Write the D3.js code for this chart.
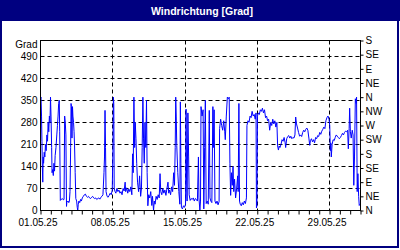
<!DOCTYPE html>
<html>
<head>
<meta charset="utf-8">
<script src="https://cdn.jsdelivr.net/npm/d3@7"></script>
<style>
  html, body { margin: 0; padding: 0; background: #fff; }
  svg text { font-family: "Liberation Sans", Arial, sans-serif; }
</style>
</head>
<body>
<div id="chart"></div>
<script>
var width = 400;
var height = 250;

// Achse / Beschriftungen
var yTicks = [0, 70, 140, 210, 280, 350, 420, 490];
var compassTicks = [0, 45, 90, 135, 180, 225, 270, 315, 360, 405, 450, 495, 540];
var compassLabels = ["N", "NE", "E", "SE", "S", "SW", "W", "NW", "N", "NE", "E", "SE", "S"];
var dateTicks = ["2025-05-01", "2025-05-08", "2025-05-15", "2025-05-22", "2025-05-29"];

// Messwerte: Tage seit 01.05.25 00:00 und Windrichtung in Grad
var dayOffset = [
  0.00, 0.05, 0.10, 0.14, 0.18, 0.22, 0.26, 0.30, 0.36, 0.42, 0.48, 0.55, 0.62, 0.68, 0.74, 0.80, 0.86, 0.92, 0.97,
  1.02, 1.08, 1.12, 1.18, 1.24, 1.30, 1.36, 1.42, 1.50, 1.58, 1.64, 1.70, 1.76, 1.82, 1.86, 1.92, 1.98,
  2.05, 2.12, 2.20, 2.28, 2.34, 2.40, 2.46, 2.52, 2.56, 2.62, 2.68, 2.74, 2.80, 2.86, 2.92, 2.96,
  3.00, 3.05, 3.10, 3.14, 3.20, 3.25, 3.30, 3.36, 3.42, 3.50, 3.56, 3.61, 3.66, 3.72, 3.80, 3.88, 3.96,
  4.05, 4.15, 4.25, 4.35, 4.45, 4.55, 4.65, 4.75, 4.85, 4.95, 5.05, 5.15, 5.25, 5.35, 5.45, 5.55, 5.65, 5.75, 5.85, 5.95,
  6.05, 6.15, 6.20, 6.25, 6.30, 6.35, 6.45, 6.55, 6.65, 6.75, 6.85, 6.95, 7.02, 7.06, 7.10, 7.14, 7.22, 7.30, 7.40, 7.50,
  7.60, 7.70, 7.80, 7.90, 8.00, 8.10, 8.20, 8.25, 8.35, 8.45, 8.55, 8.65, 8.75, 8.85, 8.92, 8.98,
  9.05, 9.12, 9.18, 9.25, 9.32, 9.40, 9.50, 9.60, 9.70, 9.78, 9.85, 9.92, 9.98,
  10.05, 10.12, 10.20, 10.27, 10.33, 10.40, 10.48, 10.58, 10.68, 10.78, 10.85, 10.95,
  11.02, 11.10, 11.20, 11.30, 11.40, 11.50, 11.58, 11.65, 11.75, 11.85, 11.95,
  12.05, 12.15, 12.25, 12.35, 12.42, 12.50, 12.60, 12.70, 12.80, 12.90, 12.98,
  13.05, 13.10, 13.15, 13.20, 13.30, 13.40, 13.50, 13.55, 13.60, 13.65, 13.75, 13.85, 13.95,
  14.05, 14.10, 14.15, 14.20, 14.28, 14.35, 14.40, 14.50, 14.60, 14.70, 14.80, 14.90,
  15.00, 15.10, 15.20, 15.30, 15.35, 15.44, 15.50, 15.55, 15.65, 15.75, 15.82, 15.90, 15.97,
  16.05, 16.15, 16.25, 16.35, 16.42, 16.50, 16.60, 16.70, 16.75, 16.82, 16.90,
  17.00, 17.10, 17.20, 17.30, 17.35, 17.45, 17.55, 17.65, 17.75, 17.85, 17.90,
  18.00, 18.10, 18.20, 18.28, 18.35, 18.42, 18.50, 18.58, 18.65, 18.72, 18.80, 18.90,
  19.00, 19.10, 19.15, 19.22, 19.28, 19.35, 19.45, 19.55, 19.65, 19.75, 19.85, 19.95,
  20.00, 20.10, 20.20, 20.30, 20.40, 20.50, 20.60, 20.70, 20.80, 20.88, 20.92, 20.97,
  21.02, 21.10, 21.20, 21.30, 21.40, 21.50, 21.60, 21.70, 21.80, 21.90,
  22.00, 22.10, 22.20, 22.30, 22.40, 22.50, 22.60, 22.70, 22.80, 22.90, 22.97,
  23.05, 23.12, 23.20, 23.30, 23.40, 23.50, 23.60, 23.70, 23.75, 23.85, 23.95,
  24.05, 24.15, 24.25, 24.35, 24.45, 24.55, 24.65, 24.72, 24.80, 24.90,
  25.00, 25.10, 25.20, 25.30, 25.40, 25.50, 25.60, 25.70, 25.80, 25.90,
  26.00, 26.08, 26.15, 26.25, 26.35, 26.45, 26.55, 26.65, 26.75, 26.85, 26.95,
  27.05, 27.15, 27.25, 27.35, 27.45, 27.55, 27.65, 27.75, 27.85, 27.95,
  28.02, 28.08, 28.12, 28.17, 28.25, 28.35, 28.45, 28.55, 28.65, 28.75, 28.85, 28.95,
  29.05, 29.15, 29.25, 29.35, 29.45, 29.55, 29.65, 29.75, 29.82, 29.90, 29.95,
  30.02, 30.10, 30.20, 30.28, 30.35, 30.42, 30.50, 30.58, 30.62, 30.68, 30.75, 30.82, 30.88, 30.95
];
var direction = [
  355, 360, 300, 220, 140, 90, 170, 150, 185, 170, 210, 190, 240, 220, 280, 250, 300, 280, 360,
  300, 200, 120, 130, 111, 150, 125, 175, 200, 240, 270, 300, 340, 350, 250, 32, 35,
  36, 38, 34, 35, 300, 280, 240, 13, 30, 28, 30, 25, 30, 60, 200, 340,
  330, 230, 330, 300, 280, 250, 205, 120, 38, 30, 10, 0, 20, 30, 25, 35, 30,
  40, 45, 50, 52, 45, 42, 45, 40, 38, 42, 45, 40, 38, 40, 35, 38, 40, 36, 42, 45,
  50, 120, 170, 318, 200, 60, 45, 42, 48, 55, 50, 65, 200, 360, 340, 70, 60, 55, 70, 60,
  65, 55, 60, 50, 70, 62, 90, 60, 72, 55, 68, 60, 75, 50, 180, 120,
  360, 200, 280, 228, 150, 90, 60, 110, 45, 70, 200, 360, 230,
  150, 280, 200, 350, 120, 15, 50, 40, 60, 16, 45, 0,
  30, 20, 45, 35, 50, 40, 117, 60, 50, 70, 55,
  65, 48, 70, 90, 55, 65, 50, 75, 60, 120, 80,
  200, 360, 300, 207, 120, 60, 20, 345, 150, 10, 5, 15, 10,
  20, 322, 100, 30, 310, 170, 50, 32, 38, 35, 40, 30,
  38, 35, 30, 170, 40, 0, 30, 330, 300, 320, 5, 200, 350,
  22, 30, 20, 318, 40, 30, 25, 330, 200, 320, 30,
  22, 30, 18, 28, 260, 290, 270, 255, 285, 250, 225,
  300, 360, 355, 360, 150, 48, 120, 80, 140, 60, 100, 40,
  70, 110, 60, 340, 30, 20, 15, 25, 18, 30, 22, 40,
  270, 285, 280, 300, 295, 315, 300, 305, 290, 310, 8, 16,
  300, 310, 305, 320, 315, 325, 310, 320, 295, 300,
  285, 290, 255, 280, 270, 290, 275, 285, 265, 280, 205,
  192, 205, 200, 210, 225, 220, 232, 215, 200, 228, 235,
  238, 230, 236, 228, 232, 230, 240, 297, 275, 262,
  248, 236, 240, 235, 248, 255, 250, 258, 262, 255,
  230, 207, 222, 228, 218, 225, 215, 232, 228, 238, 235,
  248, 242, 252, 258, 265, 260, 285, 295, 300, 290,
  270, 190, 215, 170, 210, 225, 222, 232, 240, 236, 232, 228,
  232, 238, 245, 240, 248, 252, 250, 255, 196, 260, 325,
  250, 230, 255, 240, 80, 170, 355, 340, 360, 60, 117, 45, 16, 20
];

var navy = "#000080";
var plotLeft = 40.5, plotTop = 40.5, plotW = 320, plotH = 170;

var startDate = new Date(2025, 4, 1);
var endDate = new Date(2025, 5, 1);

var data = dayOffset.map(function(d, i){
  return { date: new Date(startDate.getTime() + d * 864e5), value: direction[i] };
});

var svg = d3.select("#chart").append("svg")
  .attr("width", width)
  .attr("height", height)
  .attr("viewBox", "0 0 " + width + " " + height);

// Rahmen + Titelleiste
svg.append("rect")
  .attr("x", 0).attr("y", 0).attr("width", width).attr("height", 21)
  .attr("fill", navy);
svg.append("rect")
  .attr("x", 1).attr("y", 1).attr("width", 397).attr("height", 246)
  .attr("fill", "none").attr("stroke", navy).attr("stroke-width", 2);
svg.append("text")
  .attr("x", 202).attr("y", 15)
  .attr("text-anchor", "middle")
  .attr("fill", "#fff")
  .style("font-size", "10.5px")
  .style("font-weight", "bold")
  .text("Windrichtung [Grad]");

var x = d3.scaleTime().domain([startDate, endDate]).range([0, plotW]);
var y = d3.scaleLinear().domain([0, 540]).range([plotH, 0]);

var g = svg.append("g").attr("transform", "translate(" + plotLeft + "," + plotTop + ")");

var weekDates = dateTicks.map(function(s){ return d3.timeParse("%Y-%m-%d")(s); });

// Gitterlinien
g.append("g")
  .selectAll("line.hgrid")
  .data(yTicks.filter(function(v){ return v > 0; }))
  .enter().append("line")
  .attr("x1", 0).attr("x2", plotW)
  .attr("y1", function(d){ return Math.round(y(d)); })
  .attr("y2", function(d){ return Math.round(y(d)); })
  .attr("stroke", "#000").attr("stroke-dasharray", "4,3");

g.append("g")
  .selectAll("line.vgrid")
  .data(weekDates.slice(1))
  .enter().append("line")
  .attr("x1", function(d){ return Math.round(x(d)); })
  .attr("x2", function(d){ return Math.round(x(d)); })
  .attr("y1", 0).attr("y2", plotH)
  .attr("stroke", "#000").attr("stroke-dasharray", "4,3");

// Messkurve
var line = d3.line()
  .x(function(d){ return x(d.date); })
  .y(function(d){ return y(d.value); });

g.append("path")
  .datum(data)
  .attr("fill", "none")
  .attr("stroke", "#0000ff")
  .attr("stroke-width", 1)
  .attr("d", line);

// Rahmen Plotbereich
g.append("rect")
  .attr("x", 0).attr("y", 0).attr("width", plotW).attr("height", plotH)
  .attr("fill", "none").attr("stroke", "#000");

// Achsen
var fmt = d3.timeFormat("%d.%m.%y");

var xMinor = g.append("g")
  .attr("transform", "translate(0," + plotH + ")")
  .call(d3.axisBottom(x).ticks(d3.timeDay.every(1)).tickSize(4).tickFormat(""));
xMinor.select(".domain").remove();

var xAxis = g.append("g")
  .attr("transform", "translate(0," + plotH + ")")
  .call(d3.axisBottom(x).tickValues(weekDates).tickSize(0).tickPadding(8).tickFormat(fmt));
xAxis.select(".domain").remove();
xAxis.selectAll("text").attr("dx", -3).style("font-size", "10px").attr("fill", "#000");

var yAxis = g.append("g")
  .call(d3.axisLeft(y).tickValues(yTicks).tickSize(0).tickPadding(3));
yAxis.select(".domain").remove();
yAxis.selectAll("text").style("font-size", "10px").attr("fill", "#000");

g.append("text")
  .attr("x", -3).attr("y", 4.5)
  .attr("dy", "0.32em")
  .attr("text-anchor", "end")
  .style("font-size", "10px")
  .text("Grad");

var rAxis = g.append("g")
  .attr("transform", "translate(" + plotW + ",0)")
  .call(d3.axisRight(y).tickValues(compassTicks).tickSize(3).tickPadding(2)
    .tickFormat(function(d, i){ return compassLabels[i]; }));
rAxis.select(".domain").remove();
rAxis.selectAll("text").style("font-size", "10px").attr("fill", "#000");
</script>
</body>
</html>
